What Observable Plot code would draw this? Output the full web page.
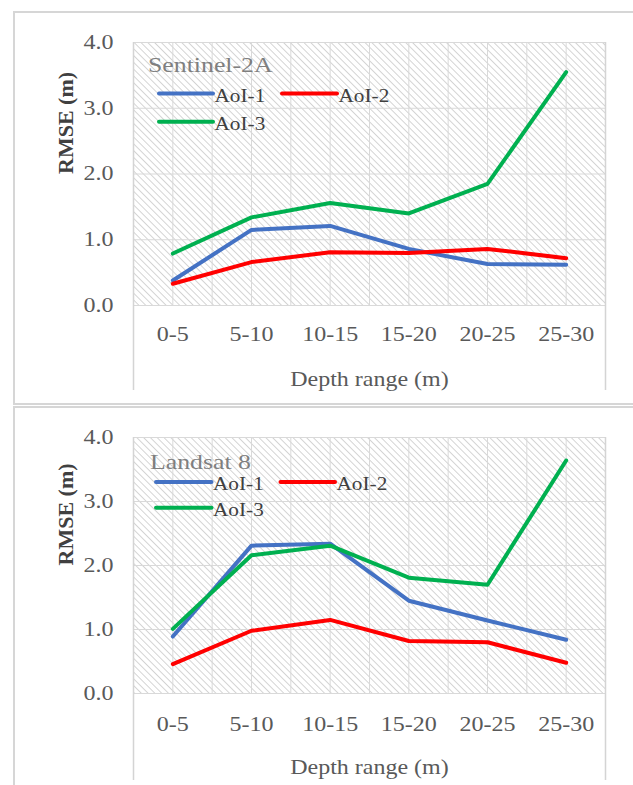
<!DOCTYPE html>
<html><head><meta charset="utf-8">
<script src="https://cdn.jsdelivr.net/npm/d3@7"></script>
<script src="https://cdn.jsdelivr.net/npm/@observablehq/plot@0.6"></script>
<style>
html,body{margin:0;padding:0;background:#fff;}
body{width:633px;height:785px;overflow:hidden;position:relative;font-family:"Liberation Serif","DejaVu Serif",serif;}
svg text{font-family:"Liberation Serif","DejaVu Serif",serif !important;}
.box{position:absolute;border:2px solid #d6d6d6;box-sizing:border-box;}
.panel{position:absolute;left:0;}
#legend{position:absolute;left:0;top:0;pointer-events:none;}
</style></head><body>
<div class="box" style="left:13px;top:11px;width:700px;height:394px"></div>
<div class="box" style="left:13px;top:406px;width:700px;height:500px"></div>
<div id="p1" class="panel" style="top:0px"></div>
<div id="p2" class="panel" style="top:406px"></div>
<svg id="legend" width="633" height="785"></svg>
<script>
// ---- data ----
const categories = ["0-5", "5-10", "10-15", "15-20", "20-25", "25-30"];
const seriesNames = ["AoI-1", "AoI-2", "AoI-3"];
const seriesColors = ["#4472C4", "#FF0000", "#00B050"];
const yTicks = [0, 1, 2, 3, 4];
const panelTitles = ["Sentinel-2A", "Landsat 8"];
const xTitle = "Depth range (m)";
const yTitle = "RMSE (m)";

const sentinelAoI1 = [0.38, 1.15, 1.21, 0.86, 0.63, 0.62];
const sentinelAoI2 = [0.33, 0.66, 0.81, 0.80, 0.86, 0.72];
const sentinelAoI3 = [0.79, 1.34, 1.56, 1.40, 1.85, 3.55];

const landsatAoI1 = [0.89, 2.31, 2.34, 1.45, 1.14, 0.84];
const landsatAoI2 = [0.46, 0.98, 1.15, 0.82, 0.80, 0.48];
const landsatAoI3 = [1.01, 2.16, 2.31, 1.81, 1.70, 3.64];

// ---- helpers ----
const FONT = "'Liberation Serif', 'DejaVu Serif', serif";
const SX = 1.2; // horizontal glyph stretch seen in the reference
function stretchText(svgEl, sx) {
  svgEl.querySelectorAll("text").forEach(t => {
    t.style.fontFamily = FONT;
    const tr = t.getAttribute("transform") || "";
    if (tr.includes("rotate")) return;
    const x = +(t.getAttribute("x") || 0);
    t.setAttribute("x", 0);
    t.setAttribute("transform", `${tr} translate(${x},0) scale(${sx},1)`);
  });
}

function drawPanel(el, idx, vals, g) {
  const rows = [];
  vals.forEach((arr, s) => arr.forEach((v, i) => rows.push({series: seriesNames[s], i, v})));
  const n = categories.length;
  const plot = Plot.plot({
    width: 633,
    height: g.height,
    marginLeft: 133,
    marginRight: 28,
    marginTop: g.top,
    marginBottom: g.bottom,
    style: {fontFamily: FONT, fontSize: "20px", color: "#595959", background: "transparent", overflow: "visible"},
    x: {type: "linear", domain: [-0.5, n - 0.5]},
    y: {domain: [0, 4]},
    color: {domain: seriesNames, range: seriesColors},
    marks: [
      Plot.frame({fill: "#ffffff", stroke: null}),
      Plot.gridX(d3.range(-0.5, n, 0.5), {stroke: "#d9d9d9", strokeOpacity: 1, strokeWidth: 1}),
      Plot.gridY(yTicks, {stroke: "#d9d9d9", strokeOpacity: 1, strokeWidth: 1}),
      Plot.ruleX([-0.5, n - 0.5], {stroke: "#d4d4d4", strokeWidth: 1.5, insetBottom: -g.ext}),
      Plot.axisY(yTicks, {tickSize: 0, tickPadding: 20, tickFormat: d => d.toFixed(1), label: null, fill: "#595959"}),
      Plot.axisX(d3.range(n), {tickSize: 0, tickPadding: g.xpad, tickFormat: i => categories[i], label: null, fill: "#595959"}),
      Plot.text([yTitle], {frameAnchor: "left", dx: -68, rotate: -90, fontWeight: "bold", fontSize: 22, fill: "#404040"}),
      Plot.text([xTitle], {frameAnchor: "bottom", dy: 66, lineAnchor: "top", fontSize: 20, fill: "#595959"}),
      Plot.lineY(rows, {x: "i", y: "v", z: "series", stroke: "series", strokeWidth: 4, strokeLinecap: "round", strokeLinejoin: "round"})
    ]
  });
  // hatch pattern for the plot area
  const id = "hatch" + idx;
  const defs = d3.select(plot).insert("defs", ":first-child");
  const pat = defs.append("pattern").attr("id", id).attr("patternUnits", "userSpaceOnUse")
    .attr("width", 4.8).attr("height", 4.8).attr("patternTransform", "rotate(-45)");
  pat.append("rect").attr("width", 4.8).attr("height", 4.8).attr("fill", "#ffffff");
  pat.append("line").attr("x1", 2.4).attr("x2", 2.4).attr("y1", 0).attr("y2", 4.8)
    .attr("stroke", "#d3d3d3").attr("stroke-width", 1);
  plot.querySelectorAll('[aria-label="frame"]').forEach(node => {
    node.setAttribute("fill", `url(#${id})`);
    node.querySelectorAll("rect").forEach(r => r.setAttribute("fill", `url(#${id})`));
  });
  el.appendChild(plot);
  stretchText(plot, SX);
}

drawPanel(document.getElementById("p1"), 1, [sentinelAoI1, sentinelAoI2, sentinelAoI3],
  {height: 406, top: 42, bottom: 101, ext: 85, xpad: 21});
drawPanel(document.getElementById("p2"), 2, [landsatAoI1, landsatAoI2, landsatAoI3],
  {height: 379, top: 31, bottom: 92, ext: 87, xpad: 23});

// ---- legends (overlay inside each plot area) ----
const legendLayout = [
  {title: [148, 71.5], rows: [93.5, 121.7], cols: [[159, 213], [282, 337]]},
  {title: [150, 469], rows: [482, 507.7], cols: [[156, 211.5], [280.5, 335]]}
];
const lg = d3.select("#legend");
legendLayout.forEach((L, p) => {
  lg.append("text").text(panelTitles[p])
    .attr("transform", `translate(${L.title[0]},${L.title[1]}) scale(${SX},1)`)
    .style("font-family", FONT)
    .attr("font-size", 21.5).attr("fill", "#7f7f7f");
  seriesNames.forEach((name, s) => {
    const row = s < 2 ? 0 : 1;
    const col = s < 2 ? s : 0;
    const [x1, x2] = L.cols[col];
    const y = L.rows[row];
    lg.append("line").attr("x1", x1).attr("x2", x2).attr("y1", y).attr("y2", y)
      .attr("stroke", seriesColors[s]).attr("stroke-width", 4).attr("stroke-linecap", "round");
    lg.append("text").text(name)
      .attr("transform", `translate(${x2 + 1.5},${y + 8}) scale(1.15,1)`)
      .style("font-family", FONT)
      .attr("font-size", 18.5).attr("fill", "#404040");
  });
});
</script>
</body></html>
